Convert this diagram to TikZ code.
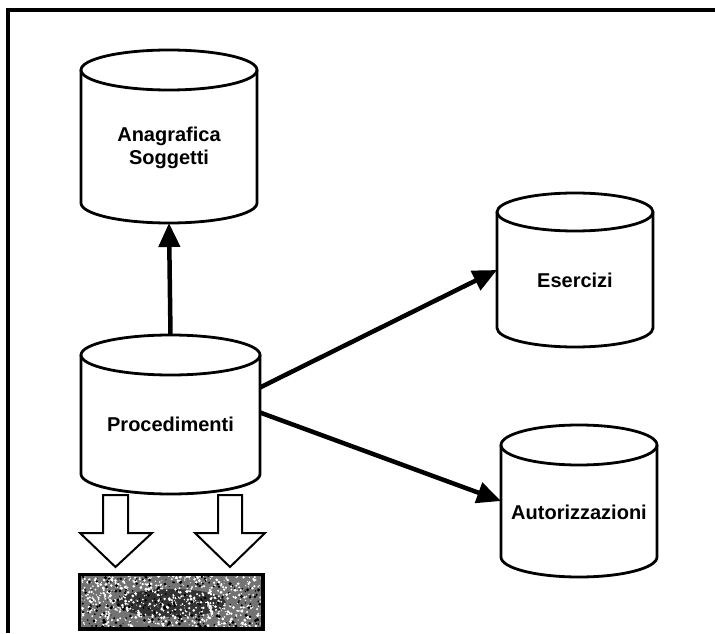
\documentclass[tikz,border=0pt]{standalone}
\usepackage{fontspec}
\setmainfont{Liberation Sans}
\usetikzlibrary{arrows.meta}
\tikzset{
  x=1pt,y=1pt,
  body/.style={draw=none,inner sep=0pt,outer sep=0pt},
  cyl/.style={line width=2.8pt,line join=round},
  lbl/.style={font=\fontsize{20}{23}\selectfont\bfseries,align=center,inner sep=0pt},
  conn/.style={line width=4.5pt,-{Triangle[length=24pt,width=21pt]}},
  blockarrow/.style={line width=2pt,fill=white,line join=miter},
  frame/.style={line width=3.5pt},
}
% \dbcyl{name}{cx}{Ytop}{Ybot}{rx}{ry}
\newcommand{\dbcyl}[6]{%
  \pgfmathsetmacro\cyh{#3-#4+2*#6}%
  \pgfmathsetmacro\cyc{(#3+#4)/2}%
  \pgfmathsetmacro\cyw{2*#5}%
  \node[body,minimum width=\cyw pt,minimum height=\cyh pt] (#1) at (#2,\cyc) {};
  \draw[cyl] (#2-#5,#3) -- (#2-#5,#4) arc[start angle=180,end angle=360,x radius=#5,y radius=#6] -- (#2+#5,#3);
  \draw[cyl] (#2,#3) ellipse[x radius=#5,y radius=#6];
}
\begin{document}
\begin{tikzpicture}
\useasboundingbox (0,0) rectangle (715,633);
\fill[white] (0,0) rectangle (715,633);
% frame (top and left visible)
\draw[frame] (8,0) -- (8,623) -- (715,623);

\dbcyl{anag}{169}{563}{430}{88}{20}
\dbcyl{proc}{170.5}{278}{159}{89.5}{20}
\dbcyl{eser}{575}{421}{305}{78}{19}
\dbcyl{autor}{579}{188}{76}{78}{20}

\node[lbl] (tanag) at ([yshift=-11pt]anag.center) {Anagrafica\\Soggetti};
\node[lbl] (tproc) at ([yshift=-10pt]proc.center) {Procedimenti};
\node[lbl] (teser) at ([yshift=-10pt]eser.center) {Esercizi};
\node[lbl] (tautor) at ([yshift=-11pt]autor.center) {Autorizzazioni};

% connectors
\draw[conn] (proc.north) -- (anag.south);
\draw[conn] ([yshift=27pt]proc.east) -- (eser.west);
\draw[conn] ([yshift=2pt]proc.east) -- (autor.west);

% hollow block arrows
\draw[blockarrow] (103,138) -- (128,138) -- (128,100) -- (152,100) -- (115.5,66) -- (80,100) -- (103,100) -- cycle;
\draw[blockarrow] (218,138) -- (242,138) -- (242,100) -- (265,100) -- (230,66) -- (195,100) -- (218,100) -- cycle;

% obscured grey box
\node[draw=black,line width=2.5pt,fill=black!55,minimum width=182pt,minimum height=53pt,inner sep=0pt] (alleg) at (171,31.5) {};
\begin{scope}
\clip (81.5,6.5) rectangle (260.5,56.5);
\fill[black!80] (171,30) ellipse[x radius=55,y radius=14];
\pgfmathsetseed{7}
\foreach \i in {1,...,700}{
  \pgfmathsetmacro\px{81+180*rnd}
  \pgfmathsetmacro\py{6+51*rnd}
  \pgfmathsetmacro\pr{0.5+1.1*rnd}
  \fill[white] (\px,\py) circle (\pr);
}
\foreach \i in {1,...,250}{
  \pgfmathsetmacro\px{81+180*rnd}
  \pgfmathsetmacro\py{6+51*rnd}
  \pgfmathsetmacro\pr{0.5+1.2*rnd}
  \fill[black] (\px,\py) circle (\pr);
}
\end{scope}
\draw[line width=2.5pt] (alleg.south west) rectangle (alleg.north east);
\end{tikzpicture}
\end{document}
